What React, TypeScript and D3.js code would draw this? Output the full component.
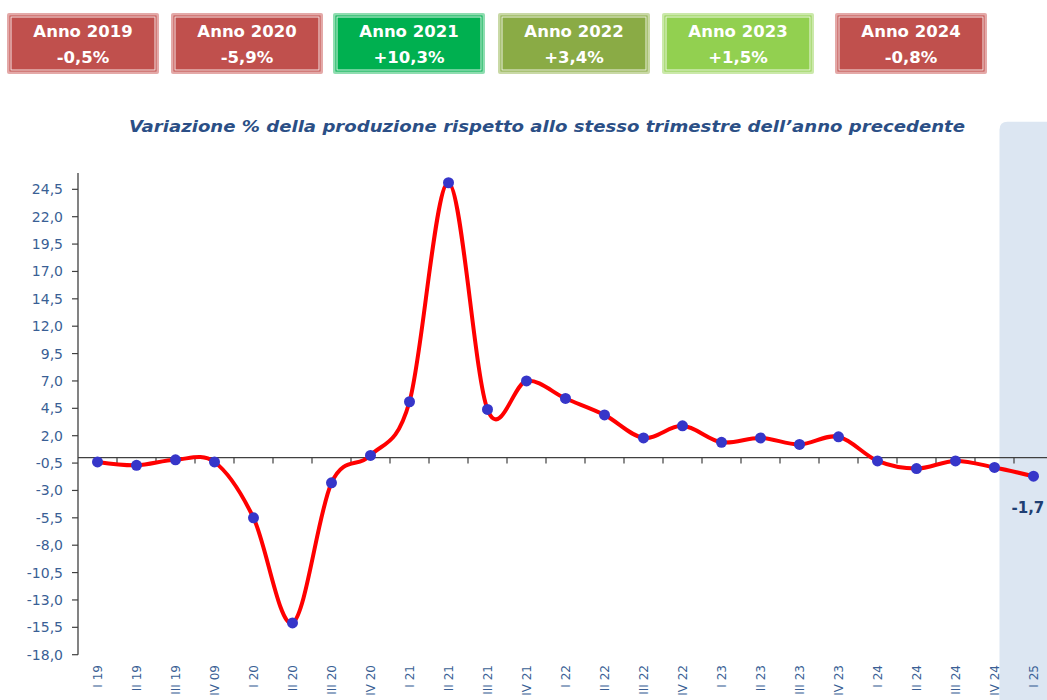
import React from "react";
import * as d3 from "d3";

const categories = [
  "I 19", "II 19", "III 19", "IV 09",
  "I 20", "II 20", "III 20", "IV 20",
  "I 21", "II 21", "III 21", "IV 21",
  "I 22", "II 22", "III 22", "IV 22",
  "I 23", "II 23", "III 23", "IV 23",
  "I 24", "II 24", "III 24", "IV 24",
  "I 25",
];
const values = [
  -0.4, -0.7, -0.2, -0.4,
  -5.5, -15.1, -2.3, 0.2,
  5.1, 25.1, 4.4, 7.0,
  5.4, 3.9, 1.8, 2.9,
  1.4, 1.8, 1.2, 1.9,
  -0.3, -1.0, -0.3, -0.9,
  -1.7,
];
const yearBoxes = ["Anno 2019", "Anno 2020", "Anno 2021", "Anno 2022", "Anno 2023", "Anno 2024"];
const yearValues = ["-0,5%", "-5,9%", "+10,3%", "+3,4%", "+1,5%", "-0,8%"];
const yearFills = ["#C0504D", "#C0504D", "#00B050", "#8AAB45", "#92D050", "#C0504D"];
const yearBorders = ["#E4A9A8", "#E4A9A8", "#8FDDB0", "#C9D9A6", "#CBE9AA", "#E4A9A8"];
const boxLefts = [7, 171, 333, 498, 662, 835];
const yTicks = d3.range(-18, 25, 2.5);
const title = "Variazione % della produzione rispetto allo stesso trimestre dell\u2019anno precedente";
const lastLabel = "-1,7";

export default function App() {
  const W = 1047, H = 700;
  const x = d3.scaleBand<string>().domain(categories).range([78, 78 + 39 * categories.length]);
  const cx = (c: string) => (x(c) as number) + x.bandwidth() / 2;
  const y = d3.scaleLinear().domain([-18, 26]).range([654.7, 172.9]);
  const y0 = y(0);
  const fmt = (v: number) => d3.format(".1f")(v).replace(".", ",").replace("\u2212", "-");
  const pts = categories.map((c, i) => [cx(c), y(values[i])] as [number, number]);
  const line = d3.line().curve(d3.curveCatmullRom.alpha(0))(pts) as string;
  const blue = "#3A5F95";
  const lastC = categories[categories.length - 1];
  const lastV = values[values.length - 1];
  const shadeX = cx(lastC) - 34;

  return (
    <svg width={W} height={H} style={{ position: "absolute", left: 0, top: 0 }} fontFamily="'DejaVu Sans', Verdana, sans-serif">
      <rect x={0} y={0} width={W} height={H} fill="#fff" />
      {yearBoxes.map((t, i) => {
        const bx = boxLefts[i], by = 13, bw = 152, bh = 61;
        return (
          <g key={t}>
            <rect x={bx} y={by} width={bw} height={bh} rx={2} fill={yearBorders[i]} />
            <rect x={bx + 2.5} y={by + 2.5} width={bw - 5} height={bh - 5} fill={yearFills[i]} />
            <rect x={bx + 4} y={by + 4} width={bw - 8} height={bh - 8} fill="none" stroke="#fff" strokeWidth={1} opacity={0.85} />
            <text x={bx + bw / 2} y={by + 24} textAnchor="middle" fill="#fff" fontWeight="bold" fontSize={16.5}>{t}</text>
            <text x={bx + bw / 2} y={by + 50} textAnchor="middle" fill="#fff" fontWeight="bold" fontSize={16.5}>{yearValues[i]}</text>
          </g>
        );
      })}
      <path
        d={`M${shadeX},${H + 10} L${shadeX},${121.7 + 8} Q${shadeX},121.7 ${shadeX + 8},121.7 L${W + 10},121.7 L${W + 10},${H + 10} Z`}
        fill="#DCE6F2"
      />
      <text x={547} y={132} textAnchor="middle" fill="#2B4F86" fontWeight="bold" fontStyle="italic" fontSize={15.5}
        textLength={836} lengthAdjust="spacingAndGlyphs">{title}</text>
      <line x1={78} x2={78} y1={y(26)} y2={y(-18)} stroke="#404040" strokeWidth={1.3} />
      {yTicks.map((t) => (
        <g key={t}>
          <line x1={72} x2={78} y1={y(t)} y2={y(t)} stroke="#404040" strokeWidth={1.2} />
          <text x={63} y={y(t)} dy="0.36em" textAnchor="end" fill={blue} fontSize={14}>{fmt(t)}</text>
        </g>
      ))}
      <line x1={78} x2={W + 10} y1={y0} y2={y0} stroke="#404040" strokeWidth={1.3} />
      {categories.map((c, i) => (
        i > 0 ? <line key={"t" + c} x1={x(c) as number} x2={x(c) as number} y1={y0} y2={y0 + 6} stroke="#404040" strokeWidth={1.2} /> : null
      ))}
      {categories.map((c) => (
        <text key={"l" + c} transform={`translate(${cx(c)},665) rotate(-90)`} dy="0.36em" textAnchor="end" fill={blue} fontSize={12}>{c}</text>
      ))}
      <path d={line} fill="none" stroke="#FF0000" strokeWidth={4} strokeLinejoin="round" />
      {pts.map((p, i) => (
        <circle key={i} cx={p[0]} cy={p[1]} r={5.5} fill="#3636C9" />
      ))}
      <text x={cx(lastC) - 22} y={y(lastV) + 37} textAnchor="start" fill="#1F3F73" fontWeight="bold" fontSize={15}>{lastLabel}</text>
    </svg>
  );
}
